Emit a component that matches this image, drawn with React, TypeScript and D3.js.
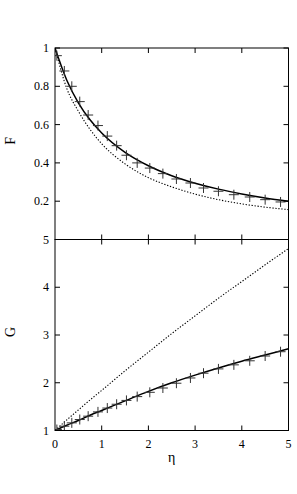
import React from "react";
import * as d3 from "d3";

// eta grid for the curves
const etaGrid = [0, 0.25, 0.5, 0.75, 1, 1.5, 2, 2.5, 3, 3.5, 4, 4.5, 5];

// F panel
const fSolid = [1, 0.833, 0.714, 0.625, 0.556, 0.455, 0.385, 0.333, 0.294, 0.263, 0.238, 0.217, 0.2];
const fDotted = [1, 0.79, 0.67, 0.575, 0.5, 0.395, 0.323, 0.275, 0.237, 0.208, 0.186, 0.169, 0.156];

// G panel
const gSolid = [1, 1.11, 1.21, 1.32, 1.42, 1.62, 1.82, 2.0, 2.16, 2.31, 2.45, 2.58, 2.71];
const gDotted = [1, 1.22, 1.43, 1.64, 1.84, 2.25, 2.64, 3.03, 3.4, 3.77, 4.12, 4.47, 4.81];

// crosses (simulation points)
const markEta = [0.04, 0.2, 0.36, 0.53, 0.71, 0.92, 1.12, 1.32, 1.53, 1.76, 2.03, 2.31, 2.6, 2.9, 3.18, 3.5, 3.83, 4.17, 4.5, 4.83];
const markF = [0.96, 0.88, 0.8, 0.72, 0.65, 0.595, 0.54, 0.49, 0.44, 0.4, 0.373, 0.344, 0.316, 0.295, 0.269, 0.252, 0.234, 0.222, 0.208, 0.196];
const markG = [1.02, 1.09, 1.16, 1.23, 1.3, 1.39, 1.47, 1.55, 1.63, 1.71, 1.8, 1.89, 1.99, 2.1, 2.2, 2.29, 2.375, 2.46, 2.56, 2.65];

const xTicks = [0, 1, 2, 3, 4, 5];
const fTicks = [0.2, 0.4, 0.6, 0.8, 1];
const gTicks = [1, 2, 3, 4, 5];

const W = 297;
const H = 494;
const left = 55;
const right = 288.5;
const top = 48;
const mid = 239.5;
const bottom = 430.5;
const font = "'Liberation Serif', 'DejaVu Serif', serif";
const tl = 5;

const x = d3.scaleLinear().domain([0, 5]).range([left, right]);
const yF = d3.scaleLinear().domain([0, 1]).range([mid, top]);
const yG = d3.scaleLinear().domain([1, 5]).range([bottom, mid]);

function curve(ys: number[], y: d3.ScaleLinear<number, number>) {
  const line = d3
    .line<number>()
    .x((_, i) => x(etaGrid[i]))
    .y((d) => y(d))
    .curve(d3.curveMonotoneX);
  return line(ys) || "";
}

const Panel: React.FC<{
  y: d3.ScaleLinear<number, number>;
  solid: number[];
  dotted: number[];
  marks: number[];
  yTicks: number[];
  label: string;
  showX: boolean;
}> = ({ y, solid, dotted, marks, yTicks, label, showX }) => {
  const [y0, y1] = y.range();
  const clipId = "clip" + label;
  return (
    <g>
      <defs>
        <clipPath id={clipId}>
          <rect x={left} y={y1} width={right - left} height={y0 - y1} />
        </clipPath>
      </defs>
      <g clipPath={`url(#${clipId})`}>
        <path d={curve(dotted, y)} fill="none" stroke="#000" strokeWidth={1.1} strokeDasharray="1.3 1.7" />
        <path d={curve(solid, y)} fill="none" stroke="#000" strokeWidth={1.5} />
        {markEta.map((e, i) => (
          <g key={i} stroke="#333" strokeWidth={1}>
            <line x1={x(e) - 5} x2={x(e) + 5} y1={y(marks[i])} y2={y(marks[i])} />
            <line x1={x(e)} x2={x(e)} y1={y(marks[i]) - 5} y2={y(marks[i]) + 5} />
          </g>
        ))}
      </g>
      {/* ticks */}
      <g stroke="#000" strokeWidth={1}>
        {xTicks.slice(1, -1).map((t) => (
          <g key={t}>
            <line x1={x(t)} x2={x(t)} y1={y0} y2={y0 - tl} />
            <line x1={x(t)} x2={x(t)} y1={y1} y2={y1 + tl} />
          </g>
        ))}
        {yTicks.map((t) => (
          <g key={t}>
            <line x1={left} x2={left + tl} y1={y(t)} y2={y(t)} />
            <line x1={right} x2={right - tl} y1={y(t)} y2={y(t)} />
          </g>
        ))}
      </g>
      <rect x={left} y={y1} width={right - left} height={y0 - y1} fill="none" stroke="#000" strokeWidth={1} />
      {yTicks.map((t) => (
        <text key={t} x={49} y={y(t) + 4} textAnchor="end" fontFamily={font} fontSize={12}>
          {t}
        </text>
      ))}
      <text
        transform={`translate(14.5, ${(y0 + y1) / 2 - 3}) rotate(-90)`}
        textAnchor="middle"
        fontFamily={font}
        fontSize={14}
      >
        {label}
      </text>
      {showX &&
        xTicks.map((t) => (
          <text key={t} x={x(t)} y={448} textAnchor="middle" fontFamily={font} fontSize={12}>
            {t}
          </text>
        ))}
    </g>
  );
};

export default function App() {
  return (
    <svg width={W} height={H} style={{ position: "absolute", left: 0, top: 0, background: "#fff" }}>
      <rect width={W} height={H} fill="#fff" />
      <Panel y={yF} solid={fSolid} dotted={fDotted} marks={markF} yTicks={fTicks.slice(0, -1).concat([1])} label="F" showX={false} />
      <Panel y={yG} solid={gSolid} dotted={gDotted} marks={markG} yTicks={gTicks} label="G" showX={true} />
      <text x={x(2.5)} y={461.5} textAnchor="middle" fontFamily={font} fontSize={14}>
        η
      </text>
    </svg>
  );
}
